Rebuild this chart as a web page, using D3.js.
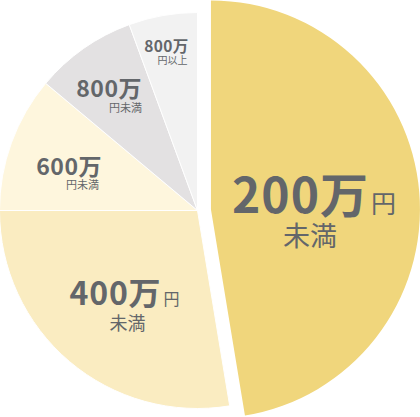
<!DOCTYPE html>
<html>
<head>
<meta charset="utf-8">
<script src="https://cdn.jsdelivr.net/npm/d3@7"></script>
<style>
  html, body { margin: 0; padding: 0; background: #fff; }
  svg { display: block; }
  text { font-family: "Noto Sans CJK JP", "Noto Sans", sans-serif; fill: #63666a; }
</style>
</head>
<body>
<div id="chart"></div>
<script>
// Income brackets (share of households, %)
var categories = ["200万円未満", "400万円未満", "600万円未満", "800万円未満", "800万円以上"];
var values = [47.4, 27.6, 11.1, 8.3, 5.6];
var colors = ["#f0d67c", "#faecc1", "#fef6dd", "#e3e1e2", "#f2f2f2"];

// Label pieces
var labelMain = ["200万", "400万", "600万", "800万", "800万"];
var labelUnit = ["円", "円", "", "", ""];
var labelSub = ["未満", "未満", "円未満", "円未満", "円以上"];

var svgWidth = 420;
var svgHeight = 417;

var cx = 197.5;
var cy = 210.5;
var radius = 198;
var bigRadius = 209;
var explode = 13.5;

var svg = d3.select("#chart")
  .append("svg")
  .attr("width", svgWidth)
  .attr("height", svgHeight);

var chartGroup = svg.append("g")
  .attr("transform", `translate(${cx}, ${cy})`);

var pie = d3.pie()
  .sort(null)
  .value(d => d);

var arcs = pie(values);

var arc = d3.arc().innerRadius(0).outerRadius(radius);
var bigArc = d3.arc().innerRadius(0).outerRadius(bigRadius);

// Slices, first one pulled out
chartGroup.selectAll("path")
  .data(arcs)
  .enter()
  .append("path")
  .attr("d", (d, i) => i === 0 ? bigArc(d) : arc(d))
  .attr("fill", (d, i) => colors[i])
  .attr("stroke", "#fff")
  .attr("stroke-width", (d, i) => i === 0 ? 0 : 1)
  .attr("transform", (d, i) => {
    if (i !== 0) return null;
    var mid = (d.startAngle + d.endAngle) / 2;
    return `translate(${Math.sin(mid) * explode}, ${-Math.cos(mid) * explode})`;
  });

// Label layout (svg coords): main line baseline + sizes, sub line position
var layout = [
  { x: 314, y: 213, main: 48, unit: 25, sub: 27, subX: 310, subY: 246, anchor: "middle", ls: 1 },
  { x: 124.5, y: 305, main: 32, unit: 16, sub: 18, subX: 127.5, subY: 330, anchor: "middle", ls: 0.8 },
  { x: 102, y: 175, main: 23, unit: 0, sub: 11, subX: 99, subY: 188.5, anchor: "end", ls: 0.5 },
  { x: 142, y: 96.7, main: 23, unit: 0, sub: 11, subX: 142, subY: 111.5, anchor: "end", ls: 0.5 },
  { x: 188.5, y: 52, main: 15.5, unit: 0, sub: 10, subX: 187.5, subY: 63.5, anchor: "end", ls: 0.3 }
];

var labelsGroup = svg.append("g");

// One text per slice, two lines as tspans
layout.forEach((p, i) => {
  var label = labelsGroup.append("text")
    .attr("text-anchor", p.anchor);

  label.append("tspan")
    .attr("x", p.x)
    .attr("y", p.y)
    .attr("font-size", p.main)
    .attr("font-weight", 700)
    .attr("letter-spacing", p.ls)
    .text(labelMain[i]);

  if (labelUnit[i]) {
    label.append("tspan")
      .attr("font-size", p.unit)
      .attr("font-weight", 400)
      .attr("dx", 2)
      .text(labelUnit[i]);
  }

  label.append("tspan")
    .attr("x", p.subX)
    .attr("y", p.subY)
    .attr("font-size", p.sub)
    .attr("font-weight", 400)
    .text(labelSub[i]);
});
</script>
</body>
</html>
